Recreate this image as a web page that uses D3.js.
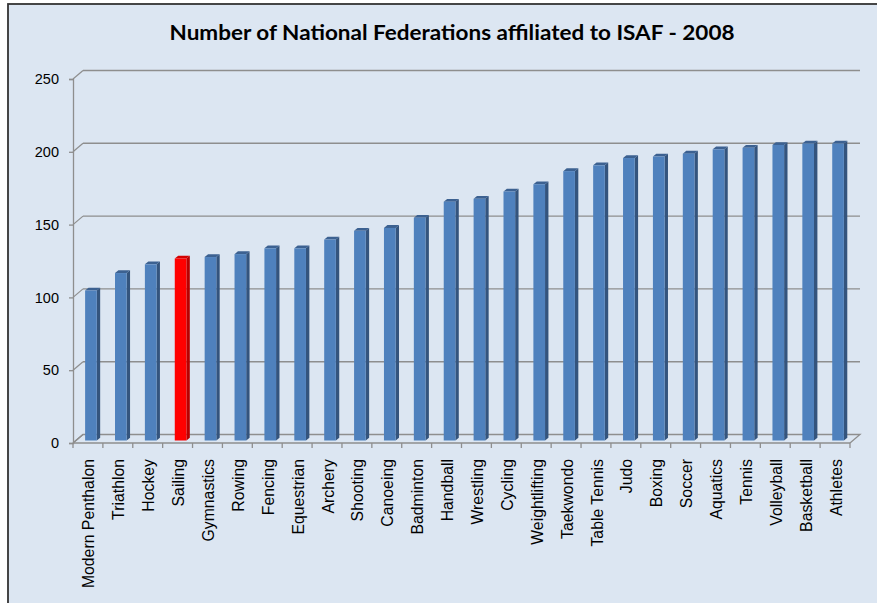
<!DOCTYPE html>
<html>
<head>
<meta charset="utf-8">
<script src="https://cdn.jsdelivr.net/npm/d3@7"></script>
<style>
	body { margin: 0; background: #fff; }
	svg { display: block; }
</style>
</head>
<body>
<svg class="svgWrapper" width="877" height="603"></svg>
<script>

// data
const sports = ['Modern Penthalon', 'Triathlon', 'Hockey', 'Sailing', 'Gymnastics', 'Rowing',
	'Fencing', 'Equestrian', 'Archery', 'Shooting', 'Canoeing', 'Badminton', 'Handball',
	'Wrestling', 'Cycling', 'Weightlifting', 'Taekwondo', 'Table Tennis', 'Judo', 'Boxing',
	'Soccer', 'Aquatics', 'Tennis', 'Volleyball', 'Basketball', 'Athletes'];
const federations = [103, 115, 121, 125, 126, 128, 132, 132, 138, 144, 146, 153, 164,
	166, 171, 176, 185, 189, 194, 195, 197, 200, 201, 203, 204, 204];
const highlighted = ['Sailing'];
const yTicks = [0, 50, 100, 150, 200, 250];
const chartTitle = 'Number of National Federations affiliated to ISAF - 2008';

// no d3-selection-multi here, so a tiny stand-in for .attrs()
d3.selection.prototype.attrs = function(obj) {
	Object.keys(obj).forEach(k => this.attr(k, obj[k]));
	return this;
};

const svgObj = d3.select('.svgWrapper');

// 3d depth of the plot box
const depthX = 10, depthY = -8.5;
// bars sit a bit into the box
const barShiftX = 3, barShiftY = -2.5;
const barDepthX = 3.4, barDepthY = -2.8;

const x = d3.scaleBand().domain(sports).range([73, 850]).paddingInner(0).paddingOuter(0);
const y = d3.scaleLinear().domain([0, 250]).range([443, 79]);

const gridColor = '#8e8e8e';

// background + frame
svgObj.append('rect').attrs({
	x: 8, y: 4, width: 900, height: 620,
	fill: '#dce6f2', stroke: '#333', 'stroke-width': 1.8
});

svgObj.append('text')
	.attrs({ x: 452, y: 40, 'text-anchor': 'middle', 'font-family': 'Lato, Open Sans, sans-serif',
		'font-weight': 'bold', 'font-size': 20, fill: '#000', textLength: 565, lengthAdjust: 'spacingAndGlyphs' })
	.text(chartTitle);

let gridG = svgObj.append('g');

// floor
gridG.append('path')
	.attr('d', `M${x.range()[0]},${y(0)} L${x.range()[0] + depthX},${y(0) + depthY} L${x.range()[1] + depthX},${y(0) + depthY} L${x.range()[1]},${y(0)}`)
	.attrs({ fill: 'none', stroke: gridColor, 'stroke-width': 1.3 });

// back wall gridlines + the little diagonals on the side wall
yTicks.forEach(t => {
	if (t > 0) {
		gridG.append('line').attrs({
			x1: x.range()[0] + depthX, x2: x.range()[1] + depthX,
			y1: y(t) + depthY, y2: y(t) + depthY,
			stroke: gridColor, 'stroke-width': 1.4
		});
	}
	gridG.append('line').attrs({
		x1: x.range()[0], x2: x.range()[0] + depthX,
		y1: y(t), y2: y(t) + depthY,
		stroke: gridColor, 'stroke-width': 1.2
	});
});

// y axis
const yAxisG = svgObj.append('g')
	.attr('transform', `translate(${x.range()[0]},0)`)
	.call(d3.axisLeft(y).tickValues(yTicks).tickSize(4).tickPadding(10));
yAxisG.select('.domain').attrs({ stroke: gridColor, 'stroke-width': 1.3 });
yAxisG.selectAll('.tick line').attrs({ stroke: gridColor, 'stroke-width': 1.3 });
yAxisG.selectAll('.tick text').attrs({ 'font-family': 'Liberation Sans, Arial, sans-serif', 'font-size': 14.5, fill: '#000' });

// x axis with ticks between categories
const xAxisG = svgObj.append('g').attr('transform', `translate(0,${y(0)})`);
xAxisG.append('line').attrs({ x1: x.range()[0], x2: x.range()[1], y1: 0, y2: 0, stroke: gridColor, 'stroke-width': 1.3 });
xAxisG.selectAll('.sep')
	.data(sports.map(d => x(d)).concat([x.range()[1]]))
	.join('line')
	.attrs({ class: 'sep', x1: d => d, x2: d => d, y1: 0, y2: 5, stroke: gridColor, 'stroke-width': 1.3 });

xAxisG.selectAll('.lbl')
	.data(sports)
	.join('text')
	.attr('class', 'lbl')
	.attr('transform', d => `translate(${x(d) + x.bandwidth() / 2 + 1},16) rotate(-90)`)
	.attrs({ 'text-anchor': 'end', dy: '0.35em', 'font-family': 'Liberation Sans, Arial, sans-serif', 'font-size': 15.8, fill: '#000' })
	.text(d => d);

// bars: front, side, top
const barW = x.bandwidth() * 0.39;
const barsG = svgObj.append('g');
const barData = sports.map((s, i) => ({ sport: s, value: federations[i] }));

const barColors = d => highlighted.includes(d.sport)
	? { front: '#ff0000', side: '#b80000', top: '#d40000' }
	: { front: '#4f81bd', side: '#34547d', top: '#3c6191' };

const bar = barsG.selectAll('g.bar').data(barData).join('g').attr('class', 'bar');

bar.append('path')
	.attr('d', d => {
		let x0 = x(d.sport) + (x.bandwidth() - barW) / 2 + barShiftX + barW;
		let yt = y(d.value) + barShiftY, yb = y(0) + barShiftY;
		return `M${x0},${yb} L${x0},${yt} L${x0 + barDepthX},${yt + barDepthY} L${x0 + barDepthX},${yb + barDepthY} Z`;
	})
	.attr('fill', d => barColors(d).side);

bar.append('path')
	.attr('d', d => {
		let x0 = x(d.sport) + (x.bandwidth() - barW) / 2 + barShiftX;
		let yt = y(d.value) + barShiftY;
		return `M${x0},${yt} L${x0 + barDepthX},${yt + barDepthY} L${x0 + barW + barDepthX},${yt + barDepthY} L${x0 + barW},${yt} Z`;
	})
	.attr('fill', d => barColors(d).top);

bar.append('rect')
	.attr('x', d => x(d.sport) + (x.bandwidth() - barW) / 2 + barShiftX)
	.attr('y', d => y(d.value) + barShiftY)
	.attr('width', barW)
	.attr('height', d => y(0) - y(d.value))
	.attr('fill', d => barColors(d).front);

</script>
</body>
</html>
